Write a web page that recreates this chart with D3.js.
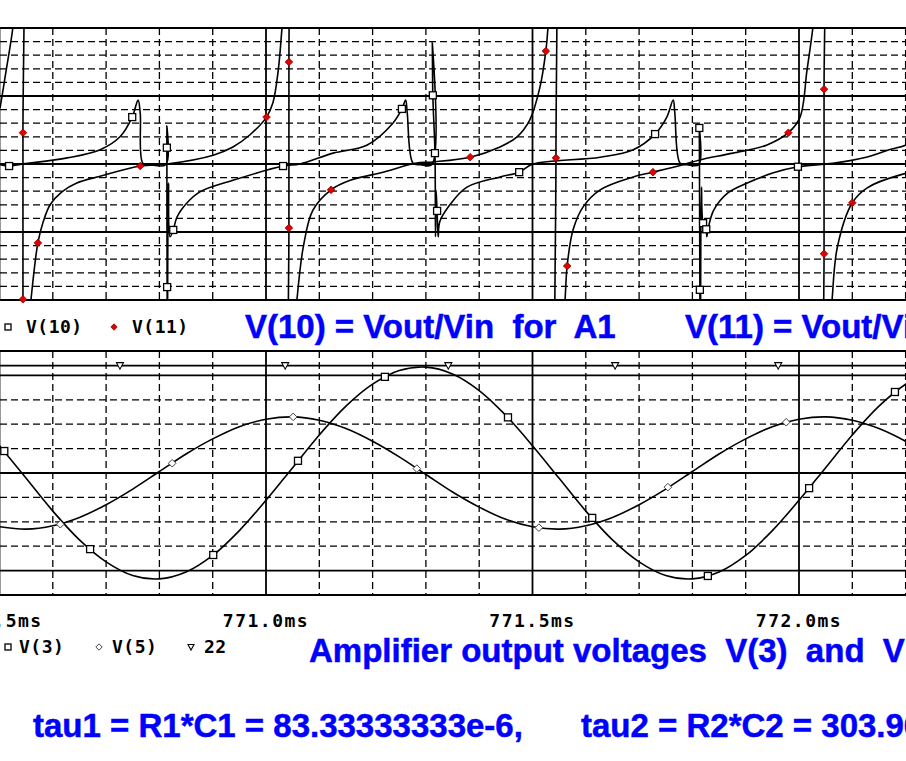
<!DOCTYPE html>
<html><head><meta charset="utf-8">
<script src="https://cdn.jsdelivr.net/npm/d3@7"></script>
<style>
html,body{margin:0;padding:0;background:#fff;}
svg{display:block;}
text{white-space:pre;}
</style></head><body>
<svg id="c" width="906" height="761"></svg>
<script>
// ---------- data ----------
const xTickValues = [770.5, 771.0, 771.5, 772.0];
const xTickLabels = ["770.5ms", "771.0ms", "771.5ms", "772.0ms"];

// top plot: [time ms, value, marker flag]
const v10 = [
[770.501,-0.01,0],[770.518,-0.03,1],[770.544,0.00,0],[770.627,0.09,0],[770.689,0.21,0],
[770.726,0.40,0],[770.749,0.69,1],[770.760,0.94,0],[770.764,0.75,0],[770.769,0.01,0],
[770.782,-0.01,0],[770.812,-0.01,0],[770.814,0.56,0],[770.814,0.24,1],[770.8145,-1.81,1],
[770.815,-2.6,0],[770.817,-0.28,0],[770.820,-1.07,0],[770.826,-0.97,1],[770.833,-0.78,0],
[770.852,-0.57,0],[770.876,-0.41,0],[770.938,-0.24,0],[771.032,-0.03,1],[771.064,0.00,0],
[771.126,0.16,0],[771.190,0.28,0],[771.238,0.60,0],[771.255,0.81,1],[771.262,0.94,0],
[771.265,0.75,0],[771.276,0.01,0],[771.290,-0.01,0],[771.311,-0.01,0],[771.312,1.79,0],
[771.313,1.01,1],[771.317,0.16,1],[771.318,-1.07,0],[771.319,-0.38,0],[771.321,-0.69,1],
[771.323,-1.07,0],[771.326,-0.85,0],[771.345,-0.60,0],[771.377,-0.34,0],[771.439,-0.19,0],
[771.475,-0.12,1],[771.501,0.00,0],[771.627,0.10,0],[771.689,0.21,0],[771.730,0.44,1],
[771.752,0.69,0],[771.764,0.94,0],[771.767,0.75,0],[771.777,0.01,0],[771.790,-0.01,0],
[771.812,-0.01,0],[771.813,0.53,1],[771.814,-1.85,1],[771.815,-2.6,0],[771.817,-0.34,0],
[771.820,-0.87,1],[771.826,-0.96,1],[771.827,-1.07,0],[771.829,-0.97,0],[771.840,-0.68,0],
[771.866,-0.43,0],[771.903,-0.28,0],[771.952,-0.13,0],[771.998,-0.04,1],[772.063,0.01,0],
[772.126,0.10,0],[772.169,0.21,0],[772.201,0.28,0],[772.240,0.45,0]
];
const v11 = [
[770.501,0.82,0],[770.512,1.35,0],[770.525,2.0,0],[770.532,2.6,0],[770.544,3.2,0],
[770.544,0.46,1],[770.544,-1.99,1],[770.544,-3.2,0],[770.552,-2.6,0],[770.559,-2.0,0],
[770.572,-1.16,1],[770.582,-0.85,0],[770.595,-0.60,0],[770.617,-0.41,0],[770.645,-0.28,0],
[770.689,-0.18,0],[770.764,-0.03,1],[770.814,0.00,0],[770.901,0.13,0],[770.938,0.25,0],
[770.970,0.43,0],[771.001,0.69,1],[771.013,0.90,0],[771.023,1.38,0],[771.030,2.0,0],
[771.036,2.6,0],[771.043,3.2,0],[771.043,1.50,1],[771.043,-0.94,1],[771.043,-3.2,0],
[771.052,-2.6,0],[771.058,-2.0,0],[771.070,-1.22,0],[771.088,-0.68,0],[771.122,-0.38,1],
[771.158,-0.24,0],[771.220,-0.12,0],[771.280,0.01,0],[771.313,0.03,0],[771.383,0.10,1],
[771.439,0.25,0],[771.471,0.40,0],[771.495,0.65,0],[771.514,1.13,0],[771.525,1.66,1],
[771.529,2.0,0],[771.535,2.6,0],[771.544,3.2,0],[771.544,0.09,1],[771.544,-3.2,0],
[771.554,-2.6,0],[771.561,-2.0,0],[771.565,-1.50,1],[771.576,-0.97,0],[771.595,-0.63,0],
[771.627,-0.38,0],[771.689,-0.19,0],[771.726,-0.12,1],[771.782,-0.01,0],[771.814,0.06,0],
[771.876,0.16,0],[771.940,0.28,0],[771.980,0.46,1],[772.002,0.69,0],[772.015,1.38,0],
[772.026,2.0,0],[772.034,2.6,0],[772.047,3.2,0],[772.047,1.10,1],[772.047,-1.32,1],
[772.047,-3.2,0],[772.056,-2.6,0],[772.062,-2.0,0],[772.072,-1.22,0],[772.100,-0.57,1],
[772.128,-0.35,0],[772.190,-0.16,0],[772.260,-0.06,0]
];

// bottom plot
const timeBottom = [770.50,770.55,770.60,770.65,770.70,770.75,770.80,770.85,770.90,770.95,
 771.00,771.05,771.10,771.15,771.20,771.25,771.30,771.35,771.40,771.45,
 771.50,771.55,771.60,771.65,771.70,771.75,771.80,771.85,771.90,771.95,
 772.00,772.05,772.10,772.15,772.20,772.25];
const v3 = [5.6,-1.1,-7.8,-13.7,-18.2,-21.0,-21.7,-20.3,-16.9,-11.8,
 -5.6,1.1,7.8,13.7,18.2,21.0,21.7,20.3,16.9,11.8,
 5.6,-1.1,-7.8,-13.7,-18.2,-21.0,-21.7,-20.3,-16.9,-11.8,
 -5.6,1.1,7.8,13.7,18.2,21.0];
const v5 = [-11.0,-11.5,-10.8,-9.1,-6.5,-3.3,0.3,3.9,7.0,9.5,
 11.0,11.5,10.8,9.1,6.5,3.3,-0.3,-3.9,-7.0,-9.5,
 -11.0,-11.5,-10.8,-9.1,-6.5,-3.3,0.3,3.9,7.0,9.5,
 11.0,11.5,10.8,9.1,6.5,3.3];
const v3Markers = [[770.509,4.5],[770.670,-15.6],[770.901,-16.8],[771.060,2.5],[771.223,19.7],
 [771.454,11.4],[771.612,-9.2],[771.829,-21.1],[772.019,-3.1],[772.180,16.6]];
const v5Markers = [[770.614,-10.5],[770.824,2.0],[771.051,11.5],[771.283,0.9],[771.512,-11.2],
 [771.754,-2.9],[771.976,10.4]];
const trace22 = [[770.5,22],[772.5,22]];
const trace22Markers = [770.726,771.036,771.342,771.655,771.961];

// ---------- drawing ----------
const svg = d3.select("#c");
const x = d3.scaleLinear().domain([770.5, 772.5]).range([-0.5, 1065.5]);
const yT = d3.scaleLinear().domain([-2, 2]).range([300, 28]);
const yB = d3.scaleLinear().domain([-25, 25]).range([595, 351]);

const defs = svg.append("defs");
defs.append("clipPath").attr("id","clipT").append("rect").attr("x",0).attr("y",28).attr("width",906).attr("height",272);
defs.append("clipPath").attr("id","clipB").append("rect").attr("x",0).attr("y",351).attr("width",906).attr("height",244);

const minorT = d3.range(0, 21).map(i => +(770.5 + i*0.1).toFixed(2)).filter(t => Math.abs((t*10)%5) > 0.01);
const majorT = [770.5, 771.0, 771.5, 772.0, 772.5];

function drawGrid(g, yS, hMinor, hMajor, y0, y1) {
  g.selectAll("line.vmin").data(minorT).join("line").attr("class","vmin")
    .attr("x1", d=>x(d)).attr("x2", d=>x(d)).attr("y1", y0).attr("y2", y1)
    .attr("stroke","#000").attr("stroke-width",1.3).attr("stroke-dasharray","7,4");
  g.selectAll("line.hmin").data(hMinor).join("line").attr("class","hmin")
    .attr("x1",0).attr("x2",906).attr("y1", d=>yS(d)).attr("y2", d=>yS(d))
    .attr("stroke","#000").attr("stroke-width",1.3).attr("stroke-dasharray","7,4");
  g.selectAll("line.vmaj").data(majorT).join("line").attr("class","vmaj")
    .attr("x1", d=>x(d)).attr("x2", d=>x(d)).attr("y1", y0).attr("y2", y1)
    .attr("stroke","#000").attr("stroke-width",1.8);
  g.selectAll("line.hmaj").data(hMajor).join("line").attr("class","hmaj")
    .attr("x1",0).attr("x2",906).attr("y1", d=>yS(d)).attr("y2", d=>yS(d))
    .attr("stroke","#000").attr("stroke-width",1.8);
  g.selectAll("line.frame").data([y0, y1]).join("line").attr("class","frame")
    .attr("x1",0).attr("x2",906).attr("y1", d=>d).attr("y2", d=>d)
    .attr("stroke","#000").attr("stroke-width",2.2);
}

const topMinor = d3.range(-10, 11).map(i => +(i*0.2).toFixed(2)).filter(v => Math.abs(v - Math.round(v)) > 0.01);
const topMajor = [-1, 0, 1];
const botMinor = [-15,-10,-5,5,10,15];
const botMajor = [-20, 0, 20];

const gT = svg.append("g");
drawGrid(gT, yT, topMinor, topMajor, 28, 300);
const gB = svg.append("g");
drawGrid(gB, yB, botMinor, botMajor, 351, 595);

// top traces
const lineT = d3.line().x(d=>x(d[0])).y(d=>yT(d[1])).curve(d3.curveCatmullRom.alpha(0.5));
const tracesT = svg.append("g").attr("clip-path","url(#clipT)");
tracesT.append("path").datum(v10).attr("d", lineT).attr("fill","none").attr("stroke","#000").attr("stroke-width",1.6);
tracesT.append("path").datum(v11).attr("d", lineT).attr("fill","none").attr("stroke","#000").attr("stroke-width",1.6);

// bottom traces
const lineB = d3.line().x(d=>x(d[0])).y(d=>yB(d[1])).curve(d3.curveCatmullRom.alpha(0.5));
const tracesB = svg.append("g").attr("clip-path","url(#clipB)");
tracesB.append("path").datum(timeBottom.map((t,i)=>[t, v3[i]])).attr("d", lineB).attr("fill","none").attr("stroke","#000").attr("stroke-width",1.6);
tracesB.append("path").datum(timeBottom.map((t,i)=>[t, v5[i]])).attr("d", lineB).attr("fill","none").attr("stroke","#000").attr("stroke-width",1.6);
tracesB.append("path").datum(trace22).attr("d", d3.line().x(d=>x(d[0])).y(d=>yB(d[1]))).attr("fill","none").attr("stroke","#000").attr("stroke-width",1.6);

// marker helpers
const sq = (g, cx, cy, s) => g.append("rect").attr("x", cx - s/2).attr("y", cy - s/2).attr("width", s).attr("height", s)
  .attr("fill","#fff").attr("stroke","#000").attr("stroke-width",1.3);
const dia = (g, cx, cy, r, fill, stroke, sw) => g.append("path")
  .attr("d", `M${cx},${cy-r}L${cx+r},${cy}L${cx},${cy+r}L${cx-r},${cy}Z`)
  .attr("fill", fill).attr("stroke", stroke).attr("stroke-width", sw);
const tri = (g, cx, cy, w) => g.append("path")
  .attr("d", `M${cx-w/2},${cy-w/2+0.5}L${cx+w/2},${cy-w/2+0.5}L${cx},${cy+w/2}Z`)
  .attr("fill","#fff").attr("stroke","#000").attr("stroke-width",1.1);

const mk = svg.append("g");
v10.filter(d=>d[2]).forEach(d => sq(mk, x(d[0]), yT(d[1]), 7));
v11.filter(d=>d[2]).forEach(d => dia(mk, x(d[0]), yT(d[1]), 3.8, "#e00000", "#900000", 0.8));
v3Markers.forEach(d => sq(mk, x(d[0]), yB(d[1]), 7));
v5Markers.forEach(d => dia(mk, x(d[0]), yB(d[1]), 3.8, "#fff", "#444", 1));
trace22Markers.forEach(t => tri(mk, x(t), yB(22), 7));

// tick labels
const mono = "'DejaVu Sans Mono', monospace";
svg.append("g").selectAll("text").data(xTickValues).join("text")
  .attr("x", d=>x(d)).attr("y", 627).attr("text-anchor","middle")
  .attr("font-family", mono).attr("font-weight","bold").attr("font-size", 18).attr("letter-spacing", 1.5).attr("fill","#000")
  .text((d,i)=>xTickLabels[i]);

// legends
const leg = svg.append("g").attr("font-family", mono).attr("font-weight","bold").attr("font-size", 18).attr("fill","#000").attr("letter-spacing", 0.5);
sq(leg, 8, 327, 6);
leg.append("text").attr("x", 26).attr("y", 333).text("V(10)");
dia(leg, 114, 327, 3.2, "#e00000", "#900000", 0.8);
leg.append("text").attr("x", 132).attr("y", 333).text("V(11)");
sq(leg, 8, 647, 6);
leg.append("text").attr("x", 19).attr("y", 653).text("V(3)");
dia(leg, 99, 647, 3.2, "#fff", "#444", 1);
leg.append("text").attr("x", 112).attr("y", 653).text("V(5)");
tri(leg, 191, 647, 6);
leg.append("text").attr("x", 204).attr("y", 653).text("22");

// blue annotations
const sans = "'Liberation Sans', Arial, sans-serif";
const blue = svg.append("g").attr("font-family", sans).attr("font-weight","bold").attr("font-size", 33)
  .attr("fill","#0000ff").attr("stroke","#0000ff").attr("stroke-width",0.5);
blue.append("text").attr("x", 245).attr("y", 338).text("V(10) = Vout/Vin  for  A1");
blue.append("text").attr("x", 685).attr("y", 338).text("V(11) = Vout/Vin  for  A2");
blue.append("text").attr("x", 309).attr("y", 662).text("Amplifier output voltages  V(3)  and  V(5)");
blue.append("text").attr("x", 33).attr("y", 737).text("tau1 = R1*C1 = 83.33333333e-6,");
blue.append("text").attr("x", 581).attr("y", 737).text("tau2 = R2*C2 = 303.96e-6");
</script>
</body></html>
